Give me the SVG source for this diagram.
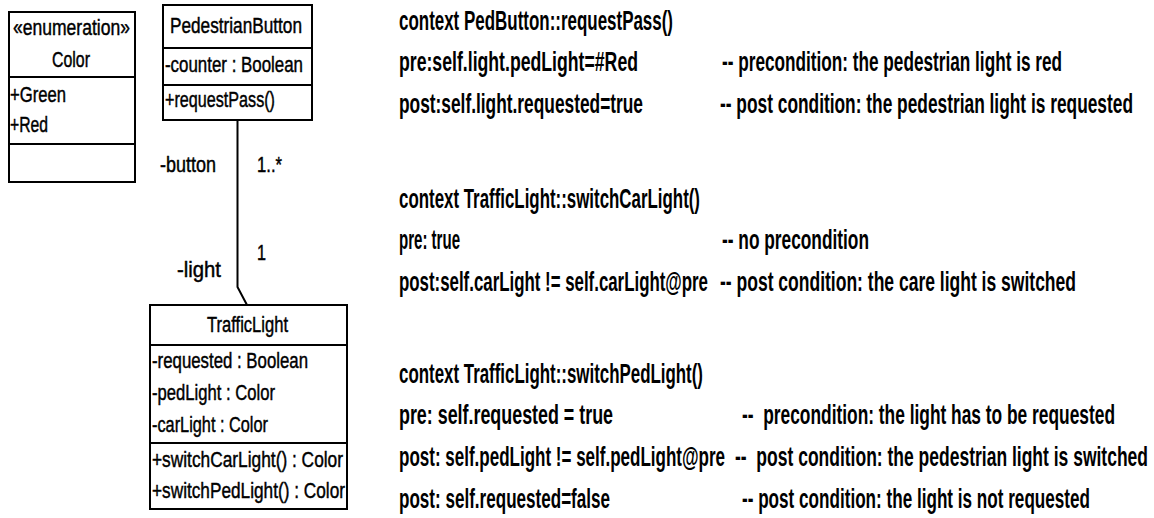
<svg xmlns="http://www.w3.org/2000/svg" width="1154" height="518" viewBox="0 0 1154 518">
  <style>
    .box { fill: #ffffff; stroke: #000000; stroke-width: 2; }
    .div { stroke: #000000; stroke-width: 2; }
    .uml { font-family: "Liberation Sans", Arial, sans-serif; font-size: 22px; fill: #000000; stroke: #000000; stroke-width: 0.45; }
    .ocl { font-family: "Liberation Sans", Arial, sans-serif; font-size: 27px; font-weight: bold; fill: #000000; white-space: pre; }
    .assoc { fill: none; stroke: #000000; stroke-width: 2; }
  </style>
  <rect width="1154" height="518" fill="#ffffff"/>

  <!-- enumeration Color -->
  <g id="color">
    <rect class="box" x="9" y="12" width="126" height="170"/>
    <line class="div" x1="9" y1="77" x2="135" y2="77"/>
    <line class="div" x1="9" y1="144" x2="135" y2="144"/>
    <text class="uml" x="13" y="35" textLength="117" lengthAdjust="spacingAndGlyphs">«enumeration»</text>
    <text class="uml" x="52" y="67" textLength="38" lengthAdjust="spacingAndGlyphs">Color</text>
    <text class="uml" x="10" y="102" textLength="56" lengthAdjust="spacingAndGlyphs">+Green</text>
    <text class="uml" x="10" y="132" textLength="38" lengthAdjust="spacingAndGlyphs">+Red</text>
  </g>

  <!-- class PedestrianButton -->
  <g id="pedestrian-button">
    <rect class="box" x="163" y="5" width="149" height="115"/>
    <line class="div" x1="163" y1="48" x2="312" y2="48"/>
    <line class="div" x1="163" y1="85" x2="312" y2="85"/>
    <text class="uml" x="170" y="33" textLength="132" lengthAdjust="spacingAndGlyphs">PedestrianButton</text>
    <text class="uml" x="165" y="72" textLength="138" lengthAdjust="spacingAndGlyphs">-counter : Boolean</text>
    <text class="uml" x="165" y="107" textLength="110" lengthAdjust="spacingAndGlyphs">+requestPass()</text>
  </g>

  <!-- class TrafficLight -->
  <g id="traffic-light">
    <rect class="box" x="150" y="305" width="197" height="204"/>
    <line class="div" x1="150" y1="345" x2="347" y2="345"/>
    <line class="div" x1="150" y1="443" x2="347" y2="443"/>
    <text class="uml" x="207" y="332" textLength="81" lengthAdjust="spacingAndGlyphs">TrafficLight</text>
    <text class="uml" x="152" y="368" textLength="156" lengthAdjust="spacingAndGlyphs">-requested : Boolean</text>
    <text class="uml" x="152" y="400" textLength="123" lengthAdjust="spacingAndGlyphs">-pedLight : Color</text>
    <text class="uml" x="152" y="432" textLength="116" lengthAdjust="spacingAndGlyphs">-carLight : Color</text>
    <text class="uml" x="152" y="467" textLength="191" lengthAdjust="spacingAndGlyphs">+switchCarLight() : Color</text>
    <text class="uml" x="152" y="498" textLength="193" lengthAdjust="spacingAndGlyphs">+switchPedLight() : Color</text>
  </g>

  <!-- association button / light -->
  <g id="connectors">
    <polyline class="assoc" points="237.5,120 237.5,287 247,305"/>
    <text class="uml" x="160" y="172" textLength="56" lengthAdjust="spacingAndGlyphs">-button</text>
    <text class="uml" x="257" y="172" textLength="25" lengthAdjust="spacingAndGlyphs">1..*</text>
    <text class="uml" x="257" y="260" textLength="9" lengthAdjust="spacingAndGlyphs">1</text>
    <text class="uml" x="177" y="277" textLength="44" lengthAdjust="spacingAndGlyphs">-light</text>
  </g>

  <!-- OCL constraints -->
  <g id="ocl-request-pass">
    <text class="ocl" x="399" y="30" textLength="274" lengthAdjust="spacingAndGlyphs">context PedButton::requestPass()</text>
    <text class="ocl" x="399" y="71" textLength="239" lengthAdjust="spacingAndGlyphs">pre:self.light.pedLight=#Red</text>
    <text class="ocl" x="722" y="71" textLength="340" lengthAdjust="spacingAndGlyphs">-- precondition: the pedestrian light is red</text>
    <text class="ocl" x="399" y="113" textLength="244" lengthAdjust="spacingAndGlyphs">post:self.light.requested=true</text>
    <text class="ocl" x="720" y="113" textLength="413" lengthAdjust="spacingAndGlyphs">-- post condition: the pedestrian light is requested</text>
  </g>

  <g id="ocl-switch-car-light">
    <text class="ocl" x="399" y="208" textLength="301" lengthAdjust="spacingAndGlyphs">context TrafficLight::switchCarLight()</text>
    <text class="ocl" x="399" y="249" textLength="61" lengthAdjust="spacingAndGlyphs">pre: true</text>
    <text class="ocl" x="722" y="249" textLength="147" lengthAdjust="spacingAndGlyphs">-- no precondition</text>
    <text class="ocl" x="399" y="291" textLength="309" lengthAdjust="spacingAndGlyphs">post:self.carLight != self.carLight@pre</text>
    <text class="ocl" x="720" y="291" textLength="356" lengthAdjust="spacingAndGlyphs">-- post condition: the care light is switched</text>
  </g>

  <g id="ocl-switch-ped-light">
    <text class="ocl" x="399" y="383" textLength="304" lengthAdjust="spacingAndGlyphs">context TrafficLight::switchPedLight()</text>
    <text class="ocl" x="399" y="424" textLength="214" lengthAdjust="spacingAndGlyphs">pre: self.requested = true</text>
    <text class="ocl" x="742" y="424" textLength="373" lengthAdjust="spacingAndGlyphs">--  precondition: the light has to be requested</text>
    <text class="ocl" x="399" y="466" textLength="326" lengthAdjust="spacingAndGlyphs">post: self.pedLight != self.pedLight@pre</text>
    <text class="ocl" x="735" y="466" textLength="413" lengthAdjust="spacingAndGlyphs">--  post condition: the pedestrian light is switched</text>
    <text class="ocl" x="399" y="508" textLength="211" lengthAdjust="spacingAndGlyphs">post: self.requested=false</text>
    <text class="ocl" x="742" y="508" textLength="348" lengthAdjust="spacingAndGlyphs">-- post condition: the light is not requested</text>
  </g>
</svg>
